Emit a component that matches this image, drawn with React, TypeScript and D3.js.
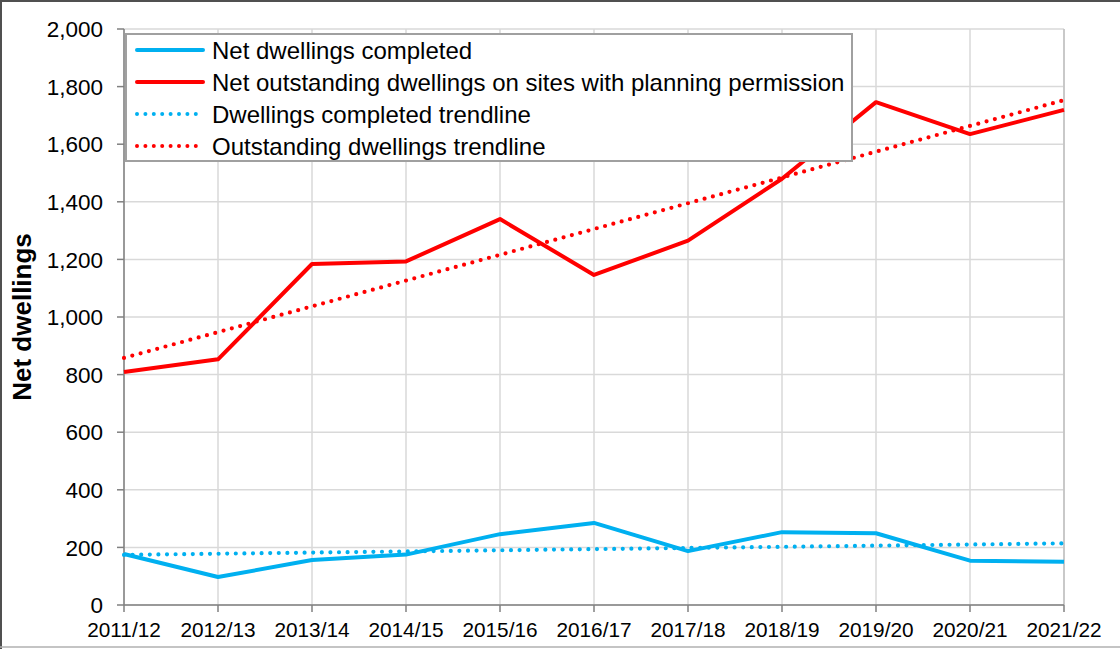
import React from "react";
import * as d3 from "d3";

const years = [
  "2011/12", "2012/13", "2013/14", "2014/15", "2015/16", "2016/17",
  "2017/18", "2018/19", "2019/20", "2020/21", "2021/22",
];
const completed = [177, 97, 156, 175, 246, 285, 187, 253, 249, 154, 150];
const outstanding = [809, 853, 1184, 1193, 1340, 1146, 1265, 1480, 1746, 1635, 1719];
// trendline end values (first and last year)
const completedTrend = [174, 214];
const outstandingTrend = [858, 1753];
const yTicks = [0, 200, 400, 600, 800, 1000, 1200, 1400, 1600, 1800, 2000];
const legendItems = [
  { label: "Net dwellings completed", color: "#00B0F0", dotted: false },
  { label: "Net outstanding dwellings on sites with planning permission", color: "#FF0000", dotted: false },
  { label: "Dwellings completed trendline", color: "#00B0F0", dotted: true },
  { label: "Outstanding dwellings trendline", color: "#FF0000", dotted: true },
];

const W = 1120;
const H = 649;
const left = 124, right = 1064, top = 29, bottom = 605;
const font = "'Liberation Sans', Arial, sans-serif";
const dots = "0 8.6";

export default function App() {
  const x = d3.scalePoint<string>().domain(years).range([left, right]);
  const y = d3.scaleLinear().domain([0, 2000]).range([bottom, top]);

  const line = d3
    .line<number>()
    .x((_, i) => x(years[i]) as number)
    .y((d) => y(d));

  const trend = (v: number[]) =>
    d3.line<number>()
      .x((_, i) => x(years[i === 0 ? 0 : years.length - 1]) as number)
      .y((d) => y(d))(v) as string;

  return (
    <div style={{ position: "fixed", left: 0, top: 0 }}>
      <svg width={W} height={H} style={{ display: "block", background: "#fff" }} fontFamily={font}>
        {/* outer frame */}
        <line x1={0} x2={W} y1={1} y2={1} stroke="#505050" strokeWidth={2} />
        <line x1={1} x2={1} y1={0} y2={H} stroke="#505050" strokeWidth={2} />
        <line x1={0} x2={W} y1={647} y2={647} stroke="#b0b0b0" strokeWidth={1.5} />

        {/* grid */}
        {yTicks.map((t) => (
          <line key={"h" + t} x1={left} x2={right} y1={y(t)} y2={y(t)} stroke="#d9d9d9" strokeWidth={1.5} />
        ))}
        {years.map((yr) => (
          <line key={"v" + yr} x1={x(yr)} x2={x(yr)} y1={top} y2={bottom} stroke="#d9d9d9" strokeWidth={1.5} />
        ))}
        <line x1={right} x2={right} y1={top} y2={bottom} stroke="#c0c0c0" strokeWidth={1.5} />

        {/* axes */}
        <line x1={left} x2={left} y1={top} y2={bottom} stroke="#808080" strokeWidth={1.5} />
        <line x1={left} x2={right} y1={bottom} y2={bottom} stroke="#808080" strokeWidth={1.5} />
        {yTicks.map((t) => (
          <g key={"yt" + t}>
            <line x1={left - 7} x2={left} y1={y(t)} y2={y(t)} stroke="#808080" strokeWidth={1.5} />
            <text x={103} y={y(t)} dy="0.36em" textAnchor="end" fontSize={22.5} fill="#000">
              {d3.format(",")(t)}
            </text>
          </g>
        ))}
        {years.map((yr) => (
          <g key={"xt" + yr}>
            <line x1={x(yr)} x2={x(yr)} y1={bottom} y2={bottom + 7} stroke="#808080" strokeWidth={1.5} />
            <text x={x(yr)} y={637} textAnchor="middle" fontSize={20.8} fill="#000">
              {yr}
            </text>
          </g>
        ))}
        <text
          transform={`translate(31,317) rotate(-90)`}
          textAnchor="middle"
          fontSize={26}
          fontWeight="bold"
          fill="#000"
        >
          Net dwellings
        </text>

        {/* series */}
        <path d={trend(completedTrend)} fill="none" stroke="#00B0F0" strokeWidth={4.2} strokeDasharray={dots} strokeLinecap="round" />
        <path d={trend(outstandingTrend)} fill="none" stroke="#FF0000" strokeWidth={4.2} strokeDasharray={dots} strokeLinecap="round" />
        <path d={line(completed) as string} fill="none" stroke="#00B0F0" strokeWidth={4} strokeLinejoin="round" />
        <path d={line(outstanding) as string} fill="none" stroke="#FF0000" strokeWidth={4} strokeLinejoin="round" />

        {/* legend */}
        <rect x={126} y={34} width={726} height={127} fill="#fff" stroke="#a0a0a0" strokeWidth={2} />
        {legendItems.map((it, i) => {
          const cy = 50 + i * 32;
          return (
            <g key={it.label}>
              <line
                x1={137} x2={203} y1={cy} y2={cy}
                stroke={it.color}
                strokeWidth={4}
                strokeDasharray={it.dotted ? "0 8.4" : undefined}
                strokeLinecap="round"
              />
              <text x={212} y={cy} dy="0.36em" fontSize={24} fill="#000">
                {it.label}
              </text>
            </g>
          );
        })}
      </svg>
    </div>
  );
}
